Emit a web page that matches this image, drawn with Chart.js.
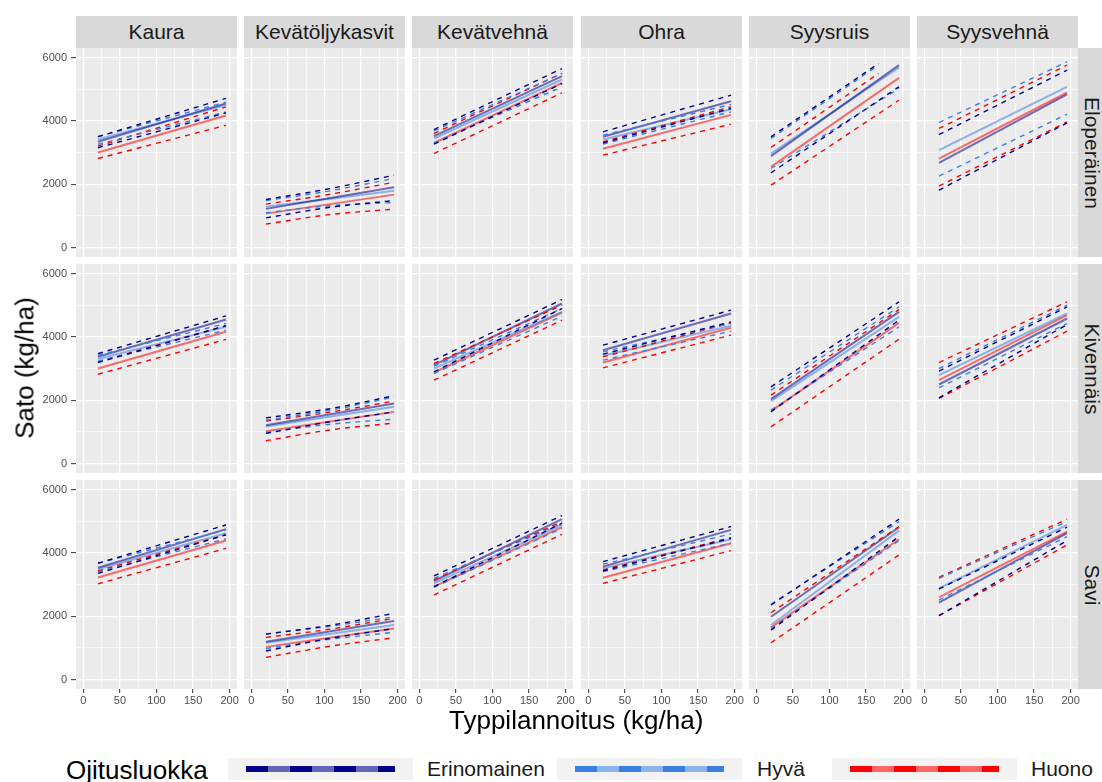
<!DOCTYPE html>
<html>
<head>
<meta charset="utf-8">
<title>Sato ja typpilannoitus</title>
<script src="https://cdn.jsdelivr.net/npm/chart.js@4.4.0/dist/chart.umd.min.js"></script>
<style>
    body {
        margin: 0;
        width: 1102px;
        height: 782px;
        overflow: hidden;
        position: relative;
        background: #ffffff;
        font-family: "Liberation Sans", Arial, sans-serif;
        color: #1a1a1a;
    }
    .panel { position: absolute; }
    .strip {
        position: absolute;
        background: #d9d9d9;
        font-size: 21px;
        text-align: center;
        color: #1a1a1a;
    }
    .strip span, .rstrip span, .ytitle {
        position: absolute;
        white-space: nowrap;
    }
    .rstrip {
        position: absolute;
        background: #d9d9d9;
        font-size: 21px;
        color: #1a1a1a;
    }
    .rstrip span { transform: translate(-50%, -50%) rotate(90deg); }
    .title { position: absolute; font-size: 26px; white-space: nowrap; color: #000; }
    .key { position: absolute; background: #f2f2f2; width: 185px; height: 22px; top: 758px; }
    .key i { position: absolute; left: 18px; width: 149px; top: 8px; height: 6px; }
    .klabel { position: absolute; font-size: 21px; top: 757px; color: #1a1a1a; }
</style>
</head>
<body>
<script>
// Facets and groups.
var crops = ['Kaura', 'Kevätöljykasvit', 'Kevätvehnä', 'Ohra', 'Syysruis', 'Syysvehnä'];
var soils = ['Eloperäinen', 'Kivennäis', 'Savi'];
var drainage = ['Erinomainen', 'Hyvä', 'Huono'];

// Nitrogen (kg/ha) where the curves start / bend / end.
var nStart = 20;
var nMid = 107.5;
var nEnd = 195;
var syysruisCut = 167; // upper bounds on organic soil stop here

var xTickValues = [0, 25, 50, 75, 100, 125, 150, 175, 200];
var yTickValues = [0, 1000, 2000, 3000, 4000, 5000, 6000];

// Yield (kg/ha). Rows: Eloperäinen, Kivennäis, Savi; columns: Erinomainen, Hyvä, Huono.
// Two values = [N 20, N 195], three values = [N 20, N 107.5, N 195].
var kauraFit = [
    [[3340, 4550], [3410, 4500], [3000, 4170]],
    [[3370, 4550], [3300, 4320], [3000, 4160]],
    [[3530, 4750], [3480, 4620], [3220, 4390]]
];
var kauraLow = [
    [[3150, 4250], [3260, 4280], [2810, 3860]],
    [[3190, 4350], [3230, 4210], [2820, 3920]],
    [[3350, 4570], [3400, 4440], [3020, 4140]]
];
var kauraHigh = [
    [[3500, 4710], [3500, 4590], [3200, 4440]],
    [[3470, 4660], [3420, 4420], [3210, 4350]],
    [[3670, 4880], [3670, 4720], [3430, 4570]]
];

var oljyFit = [
    [[1220, 1900], [1290, 1790], [1070, 1670]],
    [[1210, 1895], [1170, 1790], [1020, 1630]],
    [[1190, 1845], [1160, 1720], [1030, 1610]]
];
var oljyLow = [
    [[935, 1270, 1480], [1100, 1320, 1420], [740, 1040, 1210]],
    [[950, 1320, 1630], [980, 1240, 1400], [720, 1060, 1280]],
    [[900, 1300, 1610], [980, 1270, 1490], [700, 1050, 1320]]
];
var oljyHigh = [
    [[1515, 1860, 2283], [1480, 1790, 2180], [1370, 1680, 2060]],
    [[1440, 1730, 2140], [1370, 1680, 2100], [1340, 1620, 1970]],
    [[1434, 1710, 2090], [1434, 1680, 1980], [1330, 1590, 1930]]
];

var vehnaFit = [
    [[3516, 5410], [3442, 5305], [3300, 5200]],
    [[3105, 5053], [3000, 4789], [2874, 4768]],
    [[3111, 5062], [3037, 4882], [2932, 4809]]
];
var vehnaLow = [
    [[3263, 5179], [3305, 5074], [2968, 4884]],
    [[2895, 4895], [2842, 4653], [2632, 4526]],
    [[2932, 4935], [2911, 4777], [2668, 4587]]
];
var vehnaHigh = [
    [[3726, 5652], [3684, 5495], [3600, 5500]],
    [[3263, 5179], [3074, 4895], [3158, 5000]],
    [[3269, 5178], [3195, 4935], [3142, 4988]]
];

var ohraFit = [
    [[3495, 4621], [3410, 4368], [3116, 4189]],
    [[3579, 4737], [3400, 4347], [3189, 4284]],
    [[3564, 4724], [3512, 4429], [3216, 4302]]
];
var ohraLow = [
    [[3305, 4389], [3270, 4284], [2916, 3895]],
    [[3453, 4474], [3263, 4179], [3021, 4053]],
    [[3427, 4461], [3406, 4302], [3037, 4070]]
];
var ohraHigh = [
    [[3653, 4810], [3547, 4516], [3337, 4442]],
    [[3737, 4842], [3526, 4421], [3368, 4442]],
    [[3722, 4830], [3638, 4598], [3459, 4482]]
];

var ruisFit = [
    [[2884, 5758], [2968, 5684], [2547, 5358]],
    [[2032, 4789], [1968, 4632], [1653, 4442]],
    [[1982, 4809], [1719, 4703], [1645, 4429]]
];
var ruisLow = [
    [[2358, 5074], [2495, 5021], [1968, 4652]],
    [[1632, 4526], [1684, 4316], [1158, 3926]],
    [[1561, 4513], [1613, 4387], [1160, 3933]]
];
var ruisHigh = [
    [[3495, 5810], [3442, 5758], [3158, 5495]],
    [[2421, 5105], [2316, 4947], [2158, 4863]],
    [[2352, 5062], [2373, 4988], [2109, 4830]]
];

var syysvehnaFit = [
    [[2674, 4832], [3074, 5074], [2810, 4895]],
    [[2495, 4579], [2789, 4737], [2632, 4684]],
    [[2425, 4619], [2879, 4882], [2594, 4671]]
];
var syysvehnaLow = [
    [[1810, 3937], [2253, 4210], [1937, 3968]],
    [[2074, 4389], [2389, 4421], [2053, 4179]],
    [[2014, 4387], [2510, 4513], [2014, 4250]]
];
var syysvehnaHigh = [
    [[3568, 5600], [3947, 5863], [3758, 5758]],
    [[2916, 4947], [3000, 5000], [3189, 5105]],
    [[2858, 4809], [3195, 4988], [3227, 5062]]
];

(function () {
    'use strict';

    var cropData = [
        [kauraFit, kauraLow, kauraHigh],
        [oljyFit, oljyLow, oljyHigh],
        [vehnaFit, vehnaLow, vehnaHigh],
        [ohraFit, ohraLow, ohraHigh],
        [ruisFit, ruisLow, ruisHigh],
        [syysvehnaFit, syysvehnaLow, syysvehnaHigh]
    ];

    var dashColors = ['#00008b', '#3a80e0', '#ff0000'];
    var fitColors = ['rgba(0, 0, 139, 0.55)', 'rgba(58, 128, 224, 0.55)', 'rgba(255, 0, 0, 0.55)'];

    var panelLeft = [76, 244, 412, 581, 749, 917];
    var panelTop = [48, 264, 480];
    var panelW = 161;
    var panelH = 209;
    var axisW = 45;
    var axisH = 25;
    var labelRoom = 6; // so "200" is not cut at the panel edge

    var panelBackground = {
        id: 'panelBackground',
        beforeDraw: function (chart) {
            var a = chart.chartArea;
            var ctx = chart.ctx;
            ctx.save();
            ctx.fillStyle = '#ebebeb';
            ctx.fillRect(a.left, a.top, a.right - a.left, a.bottom - a.top);
            ctx.restore();
        }
    };

    /**
     * Turn a list of yields into {x, y} points.
     */
    function toPoints(values, endX) {
        if (values.length === 3) {
            return [
                { x: nStart, y: values[0] },
                { x: nMid, y: values[1] },
                { x: endX, y: values[2] }
            ];
        }
        return [{ x: nStart, y: values[0] }, { x: endX, y: values[1] }];
    }

    function makeDatasets(c, r) {
        var sets = [];
        var fit = cropData[c][0], low = cropData[c][1], high = cropData[c][2];
        // Confidence bounds first so they are drawn on top of the fits.
        for (var g = 0; g < drainage.length; g++) {
            var hiEnd = (crops[c] === 'Syysruis' && soils[r] === 'Eloperäinen') ? syysruisCut : nEnd;
            [[low[r][g], nEnd], [high[r][g], hiEnd]].forEach(function (b) {
                sets.push({
                    label: drainage[g],
                    data: toPoints(b[0], b[1]),
                    borderColor: dashColors[g],
                    borderWidth: 1.4,
                    borderDash: [5, 5],
                    pointRadius: 0,
                    fill: false,
                    cubicInterpolationMode: 'monotone'
                });
            });
        }
        for (var k = 0; k < drainage.length; k++) {
            sets.push({
                label: drainage[k],
                data: toPoints(fit[r][k], nEnd),
                borderColor: fitColors[k],
                borderWidth: 2,
                pointRadius: 0,
                fill: false
            });
        }
        return sets;
    }

    function buildPanel(c, r) {
        var showY = c === 0;
        var showX = r === soils.length - 1;
        var extraRight = showX ? labelRoom : 0;
        var left = panelLeft[c] - (showY ? axisW : 0);
        var width = panelW + (showY ? axisW : 0) + extraRight;
        var height = panelH + (showX ? axisH : 0);

        var wrap = document.createElement('div');
        wrap.className = 'panel';
        wrap.style.left = left + 'px';
        wrap.style.top = panelTop[r] + 'px';
        var canvas = document.createElement('canvas');
        canvas.width = width;
        canvas.height = height;
        canvas.style.width = width + 'px';
        canvas.style.height = height + 'px';
        wrap.appendChild(canvas);
        document.body.appendChild(wrap);

        new Chart(canvas.getContext('2d'), {
            type: 'line',
            data: { datasets: makeDatasets(c, r) },
            plugins: [panelBackground],
            options: {
                responsive: false,
                animation: false,
                devicePixelRatio: 1,
                layout: { padding: { left: 0, top: 0, bottom: 0, right: extraRight } },
                plugins: { legend: { display: false }, tooltip: { enabled: false } },
                scales: {
                    x: {
                        type: 'linear',
                        min: -10,
                        max: 210,
                        border: { display: false },
                        afterBuildTicks: function (scale) {
                            scale.ticks = xTickValues.map(function (v) { return { value: v }; });
                        },
                        afterFit: function (scale) {
                            scale.height = showX ? axisH : 0;
                            scale.paddingLeft = 0;
                            scale.paddingRight = 0;
                        },
                        grid: {
                            color: '#ffffff',
                            lineWidth: function (ctx) {
                                return ctx.tick && ctx.tick.value % 50 === 0 ? 1.3 : 0.6;
                            },
                            drawTicks: showX,
                            tickLength: 4,
                            tickWidth: 1,
                            tickColor: function (ctx) {
                                return ctx.tick && ctx.tick.value % 50 === 0 ? '#333333' : 'rgba(0,0,0,0)';
                            }
                        },
                        ticks: {
                            display: showX,
                            autoSkip: false,
                            maxRotation: 0,
                            padding: 1,
                            color: '#4d4d4d',
                            font: { family: '"Liberation Sans", Arial, sans-serif', size: 11 },
                            callback: function (v) { return v % 50 === 0 ? String(v) : ''; }
                        }
                    },
                    y: {
                        type: 'linear',
                        min: -300,
                        max: 6300,
                        border: { display: false },
                        afterBuildTicks: function (scale) {
                            scale.ticks = yTickValues.map(function (v) { return { value: v }; });
                        },
                        afterFit: function (scale) {
                            scale.width = showY ? axisW : 0;
                            scale.paddingTop = 0;
                            scale.paddingBottom = 0;
                        },
                        grid: {
                            color: '#ffffff',
                            lineWidth: function (ctx) {
                                return ctx.tick && ctx.tick.value % 2000 === 0 ? 1.3 : 0.6;
                            },
                            drawTicks: showY,
                            tickLength: 5,
                            tickWidth: 1,
                            tickColor: function (ctx) {
                                return ctx.tick && ctx.tick.value % 2000 === 0 ? '#333333' : 'rgba(0,0,0,0)';
                            }
                        },
                        ticks: {
                            display: showY,
                            autoSkip: false,
                            padding: 4,
                            color: '#4d4d4d',
                            font: { family: '"Liberation Sans", Arial, sans-serif', size: 11 },
                            callback: function (v) { return v % 2000 === 0 ? String(v) : ''; }
                        }
                    }
                }
            }
        });
    }

    function addText(cls, text, css) {
        var el = document.createElement('div');
        el.className = cls;
        el.textContent = text;
        for (var k in css) {
            el.style[k] = css[k];
        }
        document.body.appendChild(el);
        return el;
    }

    // Column strips.
    crops.forEach(function (name, c) {
        var s = document.createElement('div');
        s.className = 'strip';
        s.style.left = panelLeft[c] + 'px';
        s.style.top = '16px';
        s.style.width = panelW + 'px';
        s.style.height = '32px';
        s.style.lineHeight = '32px';
        s.textContent = name;
        document.body.appendChild(s);
    });

    // Row strips, text turned clockwise.
    soils.forEach(function (name, r) {
        var s = document.createElement('div');
        s.className = 'rstrip';
        s.style.left = '1078px';
        s.style.top = panelTop[r] + 'px';
        s.style.width = '32px';
        s.style.height = panelH + 'px';
        var t = document.createElement('span');
        t.textContent = name;
        t.style.left = '14px';
        t.style.top = (panelH / 2) + 'px';
        s.appendChild(t);
        document.body.appendChild(s);
    });

    for (var r = 0; r < soils.length; r++) {
        for (var c = 0; c < crops.length; c++) {
            buildPanel(c, r);
        }
    }

    // Axis titles.
    addText('title', 'Typpilannoitus (kg/ha)', { left: '449px', top: '705px' });
    var yt = addText('title', 'Sato (kg/ha)', { left: '25px', top: '368px' });
    yt.style.transform = 'translate(-50%, -50%) rotate(-90deg)';

    // Legend.
    addText('title', 'Ojitusluokka', { left: '66px', top: '755px' });
    var keyLeft = [228, 557, 832];
    var labelLeft = [427, 757, 1031];
    var keyLight = ['#6666b9', '#8cb4ec', '#ff6666'];
    drainage.forEach(function (name, g) {
        var key = document.createElement('div');
        key.className = 'key';
        key.style.left = keyLeft[g] + 'px';
        var line = document.createElement('i');
        line.style.background = 'repeating-linear-gradient(90deg, ' + dashColors[g] + ' 0 22px, ' +
            keyLight[g] + ' 22px 44px)';
        key.appendChild(line);
        document.body.appendChild(key);
        addText('klabel', name, { left: labelLeft[g] + 'px' });
    });
})();
</script>
</body>
</html>
